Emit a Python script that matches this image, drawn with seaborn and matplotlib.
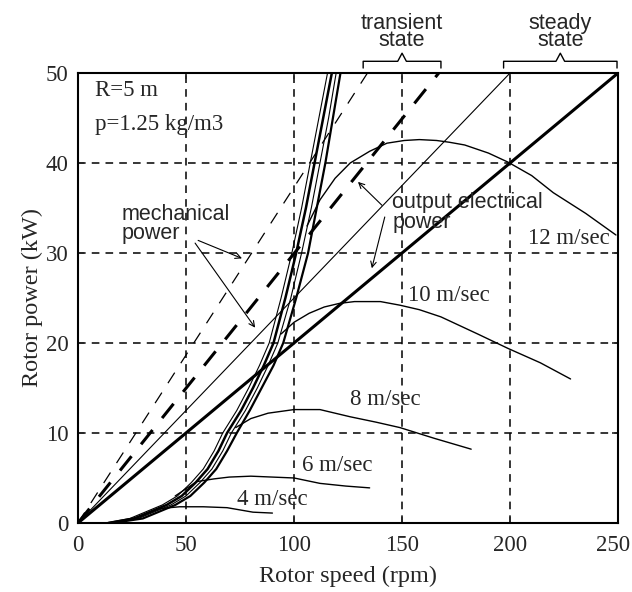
import pandas as pd
import matplotlib.pyplot as plt
import matplotlib.transforms as mtransforms
import seaborn as sns

sns.set_style('ticks')
plt.rcParams['font.family'] = ['Liberation Serif', 'DejaVu Serif']
plt.rcParams['axes.unicode_minus'] = False

# rotor power curves for each wind speed (rpm, kW)
wind_labels = ['4 m/sec', '6 m/sec', '8 m/sec', '10 m/sec', '12 m/sec']
w4_x = [16, 29, 38, 47, 58, 69, 81, 90]
w4_y = [0, 0.7, 1.6, 1.8, 1.8, 1.7, 1.2, 1.1]
w6_x = [45, 55, 63, 70, 80, 90, 100, 112, 124, 135]
w6_y = [3.0, 4.6, 4.9, 5.1, 5.2, 5.1, 5.0, 4.4, 4.1, 3.9]
w8_x = [73, 80, 88, 100, 112, 126, 138, 149, 165, 182]
w8_y = [10.6, 11.6, 12.2, 12.6, 12.6, 11.8, 11.2, 10.6, 9.4, 8.2]
w10_x = [94, 100, 107, 114, 121, 128, 140, 149, 158, 168, 185, 199, 214, 228]
w10_y = [21.0, 22.3, 23.3, 24.0, 24.4, 24.6, 24.6, 24.2, 23.7, 22.9, 21.0, 19.4, 17.8, 16.0]
w12_x = [106, 112, 119, 126, 135, 143, 151, 158, 166, 172, 179, 190, 199, 210, 220, 235, 249]
w12_y = [33.0, 35.9, 38.3, 40.0, 41.3, 42.2, 42.5, 42.6, 42.5, 42.3, 42.0, 41.1, 40.1, 38.6, 36.7, 34.4, 32.0]

# the steep bundle of max power curves
bundle_y = [0, 0.5, 1.2, 2, 3, 4.5, 6, 8, 10, 12.5, 15, 17.5, 20, 25, 30, 35, 40, 45, 50]
bundle_1 = [13, 24, 31, 39, 46, 52.5, 58, 63, 67, 73.5, 79, 84, 88.5, 94, 99, 103.5, 107.5, 111.5, 115.5]
bundle_2 = [14, 26, 33, 41, 48, 54.5, 60, 65, 69, 75.5, 81, 86, 90.5, 96, 101, 105.5, 109.5, 113.5, 117.5]
bundle_3 = [15, 28, 35, 43, 50, 56.5, 62, 67, 71, 77.5, 83, 88, 92.5, 98.5, 103.5, 108, 112, 116, 119.5]
bundle_4 = [16, 30, 37, 45, 52, 58.5, 64, 69, 73.5, 79.5, 85, 90.5, 95, 101, 106.5, 110.5, 114.5, 118, 121.5]

# straight lines from the origin
thick_solid_x = [0, 250]
thick_solid_y = [0, 50]
thin_solid_x = [0, 200]
thin_solid_y = [0, 50]
thick_dash_x = [0, 167]
thick_dash_y = [0, 50]
thin_dash_x = [0, 134]
thin_dash_y = [0, 50]

# brackets above the plot (rpm)
transient_span = [132, 168]
steady_span = [197, 249.5]

x_ticks = [0, 50, 100, 150, 200, 250]
y_ticks = [0, 10, 20, 30, 40, 50]

fig, ax = plt.subplots(figsize=(6.32, 5.92), dpi=100)
fig.subplots_adjust(left=0.1234, right=0.978, bottom=0.1166, top=0.8767)

ax.grid(True, color='black', linestyle=(0, (5, 4)), linewidth=1.1)

for xs, ys in [(w4_x, w4_y), (w6_x, w6_y), (w8_x, w8_y), (w10_x, w10_y), (w12_x, w12_y)]:
    sns.lineplot(x=xs, y=ys, ax=ax, color='black', linewidth=1.0, estimator=None)

for bx, lw in [(bundle_1, 0.8), (bundle_2, 1.8), (bundle_3, 0.8), (bundle_4, 1.6)]:
    sns.lineplot(x=bx, y=bundle_y, ax=ax, color='black', linewidth=lw, estimator=None)

sns.lineplot(x=thick_solid_x, y=thick_solid_y, ax=ax, color='black', linewidth=2.2)
sns.lineplot(x=thin_solid_x, y=thin_solid_y, ax=ax, color='black', linewidth=0.8)
sns.lineplot(x=thick_dash_x, y=thick_dash_y, ax=ax, color='black', linewidth=2.2,
             linestyle=(0, (6, 5)))
sns.lineplot(x=thin_dash_x, y=thin_dash_y, ax=ax, color='black', linewidth=0.9,
             linestyle=(0, (10, 9)))

ax.set_xlim(0, 250)
ax.set_ylim(0, 50)
ax.set_xticks(x_ticks)
ax.set_yticks(y_ticks)
ax.tick_params(direction='in', length=4, width=1.2, labelsize=16.5, pad=9,
               top=True, right=True)
ax.tick_params(axis='y', pad=7)
for s in ax.spines.values():
    s.set_linewidth(1.5)
    s.set_color('black')
ax.set_xlabel('Rotor speed (rpm)', fontsize=17.5, labelpad=7)
ax.set_ylabel('Rotor power (kW)', fontsize=17.5, labelpad=2)

# keep the last speed label inside the picture
last = ax.get_xticklabels()[-1]
last.set_transform(last.get_transform() +
                   mtransforms.ScaledTranslation(-0.05, 0, fig.dpi_scale_trans))

# labels
ax.text(8, 48.1, 'R=5 m', fontsize=16.5, va='center')
ax.text(8, 44.3, 'p=1.25 kg/m3', fontsize=16.5, va='center')
lab_pos = [(73.6, 2.6), (103.7, 6.4), (126, 13.7), (152.8, 25.3), (208.3, 31.6)]
for lab, (lx, ly) in zip(wind_labels, lab_pos):
    ax.text(lx, ly, lab, fontsize=16.5, va='center')

sans = ['Liberation Sans', 'DejaVu Sans']
ax.text(20, 33.2, 'mechanical\npower', fontsize=15.5, family=sans, va='center',
        linespacing=0.9)
ax.text(145.4, 34.5, 'output electrical\npower', fontsize=15.5, family=sans, va='center',
        linespacing=0.9)

arrow = dict(arrowstyle='->', color='black', lw=0.8, shrinkA=0, shrinkB=0)
ax.annotate('', xy=(75.9, 29.4), xytext=(55.6, 31.4), arrowprops=arrow)
ax.annotate('', xy=(82, 21.7), xytext=(54.2, 31.1), arrowprops=arrow)
ax.annotate('', xy=(129.6, 37.9), xytext=(140.7, 35.3), arrowprops=arrow)
ax.annotate('', xy=(136, 28.3), xytext=(142, 34), arrowprops=arrow)

# brackets over the transient and steady parts
for (a, b), lab in [(transient_span, 'transient\nstate'), (steady_span, 'steady\nstate')]:
    m = (a + b) / 2
    ax.plot([a, a, m - 2, m, m + 2, b, b], [50.55, 51.3, 51.3, 52.2, 51.3, 51.3, 50.55],
            color='black', lw=1.0, clip_on=False)
    ax.text(m, 52.45, lab, fontsize=15.5, family=sans, ha='center', va='bottom',
            linespacing=0.72)

plt.savefig('out.png', dpi=100)
